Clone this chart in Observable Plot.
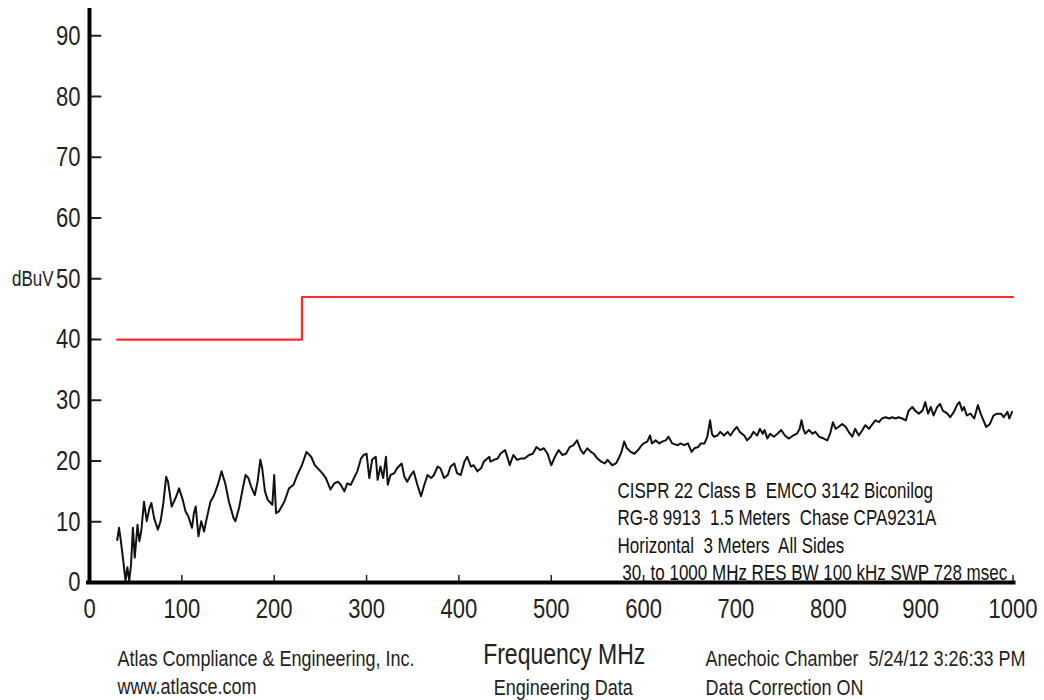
<!DOCTYPE html>
<html><head><meta charset="utf-8">
<script src="https://cdn.jsdelivr.net/npm/d3@7"></script>
<script src="https://cdn.jsdelivr.net/npm/@observablehq/plot@0.6"></script>
<style>
html,body{margin:0;padding:0;background:#fff;}
#chart svg text{white-space:pre;}
</style></head><body><div id="chart"></div>
<script>
const xTicks = [0,100,200,300,400,500,600,700,800,900,1000];
const yTicks = [0,10,20,30,40,50,60,70,80,90];
const limitFreq = [30,230,230,1000];
const limitLevel = [40,40,47,47];
const trace = [
[30,7.0],[32,9.0],[34,6.8],[37,3.0],[39,0.3],[41,2.5],[43,0.3],[45,3.0],[47,9.0],[49,4.1],[52,9.5],[54,6.8],[56,8.4],[59,13.3],[62,10.1],[65,12.3],[67,13.1],[70,10.6],[74,8.7],[77,10.1],[80,13.1],[83,17.4],[85,16.6],[89,12.5],[94,14.2],[97,15.5],[101,13.6],[104,11.7],[107,10.9],[111,9.0],[113,11.4],[115,12.5],[118,7.6],[121,10.1],[124,8.4],[127,10.6],[131,13.3],[135,14.4],[139,16.1],[143,18.3],[147,16.3],[151,13.3],[156,10.6],[158,10.1],[162,12.3],[166,15.5],[169,17.7],[172,17.2],[175,15.8],[179,14.4],[182,16.6],[185,20.2],[187,18.8],[190,15.0],[193,13.6],[198,12.8],[200,17.7],[202,11.4],[205,11.7],[211,13.3],[216,15.5],[221,16.1],[225,17.7],[230,19.3],
[235,21.5],[240,20.7],[244,19.3],[249,18.5],[252,18.0],[256,17.2],[261,15.3],[265,16.3],[269,16.6],[272,16.1],[276,15.0],[279,16.3],[283,16.1],[287,17.4],[290,18.3],[294,20.4],[297,21.0],[300,21.2],[303,17.2],[306,20.2],[310,20.7],[312,16.9],[315,19.1],[318,17.2],[321,20.7],[323,16.1],[326,17.7],[330,18.0],[333,18.8],[338,19.6],[341,17.4],[344,16.6],[348,17.7],[351,18.3],[355,16.1],[359,14.2],[362,15.8],[366,17.7],[370,17.2],[373,17.7],[377,19.1],[380,18.8],[384,17.2],[388,17.7],[391,19.1],[395,19.6],[398,18.0],[402,17.7],[406,19.9],[409,20.7],[413,19.1],[416,19.3],[420,18.3],[424,18.8],[427,19.9],[433,20.7],
[434,19.9],[438,20.2],[442,20.4],[445,21.2],[450,21.8],[453,20.4],[455,19.3],[459,21.0],[463,20.2],[467,20.4],[471,20.4],[476,21.0],[480,21.2],[484,22.3],[488,21.8],[492,22.1],[496,21.2],[500,19.3],[504,20.7],[508,21.8],[512,21.0],[516,21.2],[520,22.3],[524,22.6],[528,23.4],[532,21.8],[535,21.2],[539,22.1],[543,21.5],[546,21.2],[550,20.4],[554,19.9],[558,19.6],[561,20.2],[566,19.3],[570,19.6],[573,20.4],[576,21.5],[579,23.2],[582,22.1],[586,21.5],[590,21.2],[594,21.8],[598,22.6],[600,22.9],[604,23.2],[607,24.2],[609,22.9],[613,23.4],[617,22.9],[620,23.2],[624,23.4],[627,24.0],[631,22.9],[637,22.6],[640,22.9],[644,22.6],[648,22.9],[652,21.5],[655,22.1],[659,22.3],[662,22.9],[666,22.9],[669,24.0],[672,26.7],[674,24.5],[676,24.0],[680,24.2],[683,24.8],[687,24.2],[691,24.8],[694,24.2],[698,25.1],[701,25.6],[704,24.8],[709,24.2],[712,23.4],
[716,24.0],[719,24.8],[723,24.2],[726,25.3],[729,24.5],[731,25.1],[734,23.7],[737,24.5],[741,24.0],[745,24.5],[749,25.1],[753,24.2],[757,23.7],[762,24.2],[766,24.5],[769,25.3],[771,26.7],[773,25.3],[775,24.5],[779,25.1],[783,24.5],[786,24.8],[790,24.0],[795,23.7],[799,23.4],[802,24.5],[805,26.4],[808,25.3],[811,25.6],[815,26.1],[819,25.6],[822,24.8],[826,24.0],[829,25.3],[833,24.2],[837,25.1],[840,25.9],[844,25.3],[848,26.1],[851,26.7],[855,26.4],[858,27.0],[862,27.2],[866,27.0],[869,27.2],[873,27.0],[876,27.2],[880,27.0],[884,26.7],[887,28.3],[891,28.9],[894,28.3],[898,27.8],[902,28.3],[905,29.7],[908,27.8],[911,28.9],[914,27.5],[918,28.9],[921,29.4],[924,28.3],[929,27.8],[932,27.2],[936,28.1],[940,29.4],[942,29.7],[945,28.3],[947,28.9],[950,27.5],[954,27.8],[958,27.0],[962,29.2],[965,27.8],[968,26.7],[971,25.6],[975,26.1],[979,27.5],[983,27.8],[987,27.8],[990,27.2],[994,28.1],[996,27.0],[999,28.1]
];
const yLabel = "dBuV";
const xLabel = "Frequency MHz";
const xSubLabel = "Engineering Data";
const companyLines = ["Atlas Compliance & Engineering, Inc.", "www.atlasce.com"];
const chamberLines = ["Anechoic Chamber  5/24/12 3:26:33 PM", "Data Correction ON"];
const setupLines = ["CISPR 22 Class B  EMCO 3142 Biconilog", "RG-8 9913  1.5 Meters  Chase CPA9231A", "Horizontal  3 Meters  All Sides", " 30  to 1000 MHz RES BW 100 kHz SWP 728 msec"];

const limit = limitFreq.map((f, i) => ({f, v: limitLevel[i]}));
const meas = trace.map(([f, v]) => ({f, v}));
const tickShape = {draw(ctx, l) { ctx.moveTo(0, 0); ctx.lineTo(0, -l); }};
const FONT = "'Liberation Sans', Arial, sans-serif";
const TEXT = "#222";
const STRETCH = 1.27;

const foot = (txt, anchor, textAnchor, dx, dy, size) =>
  Plot.text([txt], {text: d => d, frameAnchor: anchor, textAnchor, lineAnchor: "top", dx, dy, fontSize: size, fill: TEXT});

const plot = Plot.plot({
  width: 1044, height: 700,
  marginLeft: 89, marginRight: 31.5, marginTop: 8, marginBottom: 118,
  style: {fontFamily: FONT, background: "#fff", color: TEXT},
  x: {domain: [0, 1000]},
  y: {domain: [0, 94.5]},
  marks: [
    Plot.axisX({ticks: xTicks, tickFormat: d => String(d), tickSize: 0, tickPadding: 16, fontSize: 22, label: null, fill: TEXT}),
    Plot.axisY({ticks: yTicks, tickFormat: d => String(d), tickSize: 0, tickPadding: 9, fontSize: 22, label: null, fill: TEXT}),
    Plot.text([setupLines.join("\n")], {text: d => d, frameAnchor: "top-left", textAnchor: "start", lineAnchor: "top", dx: 528, dy: 470, fontSize: 17, lineHeight: 1.265, fill: "#111"}),
    Plot.vector(xTicks, {x: d => d, frameAnchor: "bottom", length: 7, anchor: "start", shape: tickShape, stroke: "#222", strokeWidth: 1.5}),
    Plot.vector(yTicks, {y: d => d, frameAnchor: "left", length: 11, rotate: 90, anchor: "start", shape: tickShape, stroke: "#222", strokeWidth: 2}),
    Plot.line(limit, {x: "f", y: "v", stroke: "#ff2b2b", strokeWidth: 2.2}),
    Plot.line(meas, {x: "f", y: "v", stroke: "#111", strokeWidth: 2}),
    Plot.ruleX([0], {stroke: "#000", strokeWidth: 4}),
    Plot.ruleY([0], {stroke: "#000", strokeWidth: 4, insetLeft: -3, insetRight: -3}),
    Plot.text([yLabel], {text: d => d, y: () => yTicks[5], frameAnchor: "left", textAnchor: "end", dx: -36, fontSize: 17, fill: TEXT}),
    foot(xLabel, "bottom", "middle", 13, 61, 23),
    foot(xSubLabel, "bottom", "middle", 12, 96, 18),
    foot(companyLines[0], "bottom-left", "start", 28, 67, 18),
    foot(companyLines[1], "bottom-left", "start", 28, 95, 18),
    foot(chamberLines[0], "bottom-left", "start", 616, 67, 18),
    foot(chamberLines[1], "bottom-left", "start", 616, 96, 18)
  ]
});

// mimic the vertically stretched lettering of the source image
plot.querySelectorAll("text").forEach(el => {
  const tr = el.getAttribute("transform");
  if (tr) {
    el.setAttribute("transform", tr + ` scale(1,${STRETCH})`);
  } else {
    const x = +el.getAttribute("x") || 0, y = +el.getAttribute("y") || 0;
    el.removeAttribute("x"); el.removeAttribute("y");
    el.setAttribute("transform", `translate(${x},${y}) scale(1,${STRETCH})`);
  }
});
document.getElementById("chart").appendChild(plot);
</script>
</body></html>
